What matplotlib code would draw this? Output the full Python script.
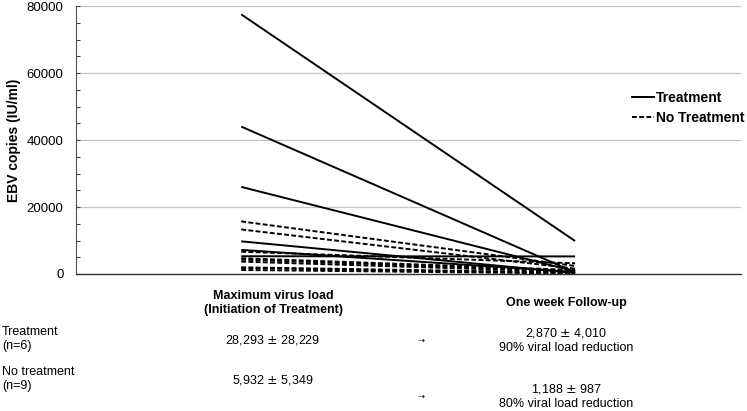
import matplotlib.pyplot as plt
from matplotlib.ticker import MultipleLocator
from matplotlib.lines import Line2D

plt.rcParams['font.family'] = ['Liberation Sans', 'DejaVu Sans']

# ───────── Data ─────────────────────────────────────────────
timepoints = [1, 2]
treat_start = [77500, 44000, 26000, 9750, 7200, 5300]
treat_end   = [9850, 500, 800, 300, 600, 5250]
notreat_start = [15700, 13300, 6650, 4700, 4300, 3700, 2000, 1800, 1200]
notreat_end   = [2400, 1600, 3200, 1200, 900, 600, 400, 250, 150]

y_ticks = [0, 20000, 40000, 60000, 80000]

col_headers = ['Maximum virus load\n(Initiation of Treatment)', 'One week Follow-up']
row_labels = ['Treatment\n(n=6)', 'No treatment\n(n=9)']
baseline_txt = ['28,293 $\\pm$ 28,229', '5,932 $\\pm$ 5,349']
followup_txt = ['2,870 $\\pm$ 4,010\n90% viral load reduction',
                '1,188 $\\pm$ 987\n80% viral load reduction']

W, H = 747, 411

fig = plt.figure(figsize=(W / 100, H / 100), dpi=100)
ax = fig.add_axes([76 / W, 1 - 274 / H, (741 - 76) / W, (274 - 6) / H])

for s, e in zip(treat_start, treat_end):
    ax.plot(timepoints, [s, e], color='black', lw=1.4, solid_capstyle='butt')
for s, e in zip(notreat_start, notreat_end):
    ax.plot(timepoints, [s, e], color='black', lw=1.4, linestyle=(0, (2.5, 1.2)))

ax.set_xlim(0.505, 2.497)
ax.set_ylim(0, 80000)
ax.set_xticks([])
ax.set_yticks(y_ticks)
ax.yaxis.set_minor_locator(MultipleLocator(5000))
ax.tick_params(axis='y', which='both', direction='in', length=3, width=0.8,
               color='#444444', labelsize=9.5, pad=9)
ax.grid(axis='y', which='major', color='#c4c4c4', lw=0.9)
ax.set_axisbelow(True)
for side in ['top', 'right']:
    ax.spines[side].set_visible(False)
ax.spines['left'].set_color('#555555')
ax.spines['left'].set_linewidth(0.8)
ax.spines['bottom'].set_color('#333333')
ax.spines['bottom'].set_linewidth(1.0)
ax.set_ylabel('EBV copies (IU/ml)', fontsize=10, fontweight='bold', labelpad=4)

handles = [Line2D([], [], color='black', lw=1.4),
           Line2D([], [], color='black', lw=1.4, linestyle=(0, (2.5, 1.2)))]
fig.legend(handles, ['Treatment', 'No Treatment'], loc='center left',
           bbox_to_anchor=(632 / W, 1 - 108 / H), frameon=False,
           prop={'weight': 'bold', 'size': 10}, handlelength=1.6,
           handletextpad=0.15, borderpad=0, borderaxespad=0, labelspacing=0.45)

# ───────── Summary table under the plot ─────────────────────
def fy(y):
    return 1 - y / H

fig.text(273 / W, fy(303), col_headers[0], ha='center', va='center',
         fontsize=9, fontweight='bold', linespacing=1.25)
fig.text(566 / W, fy(303), col_headers[1], ha='center', va='center',
         fontsize=9, fontweight='bold')

# row label y, baseline y, follow-up block y
row_pos = [(339, 340, 340), (379, 380, 396)]
for (ly, by, fy_), lab, b, f in zip(row_pos, row_labels, baseline_txt, followup_txt):
    fig.text(2 / W, fy(ly), lab, ha='left', va='center', fontsize=9,
             linespacing=1.25)
    fig.text(273 / W, fy(by), b, ha='center', va='center', fontsize=9)
    fig.text(421 / W, fy(fy_), '⇢', ha='center', va='center', fontsize=6,
             family=['DejaVu Sans'])
    fig.text(566 / W, fy(fy_), f, ha='center', va='center', fontsize=9,
             linespacing=1.25)

fig.savefig('out.png', dpi=100)
